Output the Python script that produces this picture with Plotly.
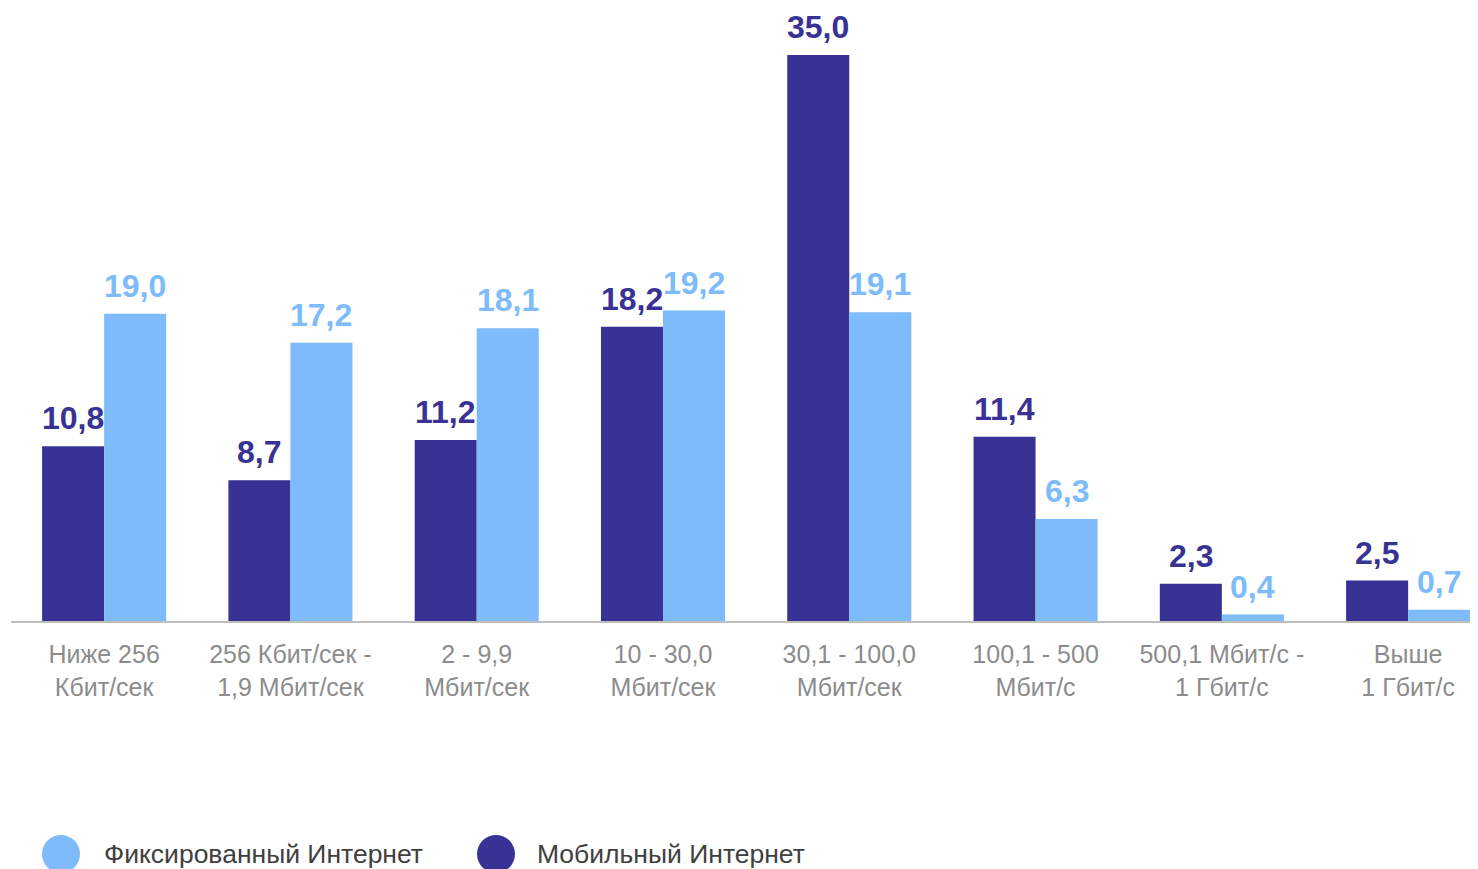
import plotly.graph_objects as go

categories = ["Ниже 256<br>Кбит/сек", "256 Кбит/сек -<br>1,9 Мбит/сек", "2 - 9,9<br>Мбит/сек",
              "10 - 30,0<br>Мбит/сек", "30,1 - 100,0<br>Мбит/сек", "100,1 - 500<br>Мбит/с",
              "500,1 Мбит/с -<br>1 Гбит/с", "Выше<br>1 Гбит/с"]
mobile = [10.8, 8.7, 11.2, 18.2, 35.0, 11.4, 2.3, 2.5]
fixed = [19.0, 17.2, 18.1, 19.2, 19.1, 6.3, 0.4, 0.7]

DARK = "#373294"
LIGHT = "#7dbbfb"
FONT = "Liberation Sans, Arial, sans-serif"

# page is offset by 8px (body margin), compensate
OFF = 8
W, HGT = 1478, 869
plot_left = 11 - OFF
plot_right = 1478 - OFF
plot_top = 20 - OFF
plot_bottom = 621 - OFF
PW = plot_right - plot_left
PH = plot_bottom - plot_top

fig = go.Figure()
fig.add_trace(go.Bar(x=categories, y=mobile, name="Мобильный Интернет", marker_color=DARK,
                     marker_line_width=0, showlegend=False))
fig.add_trace(go.Bar(x=categories, y=fixed, name="Фиксированный Интернет", marker_color=LIGHT,
                     marker_line_width=0, showlegend=False))

bargap = 0.334
off = (1 - bargap) / 4
annotations = []
for i, (m, f) in enumerate(zip(mobile, fixed)):
    for val, dx, col in ((m, -off, DARK), (f, off, LIGHT)):
        annotations.append(dict(x=i + dx, y=val, xref="x", yref="y", text=f"{val:.1f}".replace(".", ","),
                                showarrow=False, yanchor="bottom", yshift=8,
                                font=dict(family=FONT, size=32, color=col, weight="bold")))

# legend (manual)
legend_items = [("Фиксированный Интернет", LIGHT, 61, 102), ("Мобильный Интернет", DARK, 496, 535)]
ly = (plot_bottom - (854 - OFF)) / PH
shapes = []
for name, col, cx, tx in legend_items:
    shapes.append(dict(type="circle", xref="paper", yref="paper", xsizemode="pixel", ysizemode="pixel",
                       xanchor=(cx - OFF - plot_left) / PW, yanchor=ly, x0=-19, x1=19, y0=-19, y1=19,
                       fillcolor=col, line_width=0))
    annotations.append(dict(x=(tx - OFF - plot_left) / PW, y=ly, xref="paper", yref="paper", text=name,
                            showarrow=False, xanchor="left", yanchor="middle",
                            font=dict(family=FONT, size=26.5, color="#404040")))

fig.update_layout(
    width=W, height=HGT,
    margin=dict(l=plot_left, r=W - plot_right, t=plot_top, b=HGT - plot_bottom),
    plot_bgcolor="white", paper_bgcolor="white",
    barmode="group", bargap=bargap, bargroupgap=0,
    xaxis=dict(range=[-0.5, 7.375], showline=True, linecolor="#bfbfbf", linewidth=2,
               showgrid=False, ticks="", ticklabelstandoff=10,
               tickfont=dict(family=FONT, size=25, color="#8c8c8c")),
    yaxis=dict(range=[0, 35.0 * PH / 566], visible=False, showgrid=False),
    annotations=annotations, shapes=shapes,
    font=dict(family=FONT),
)

fig.write_html("out.html")
